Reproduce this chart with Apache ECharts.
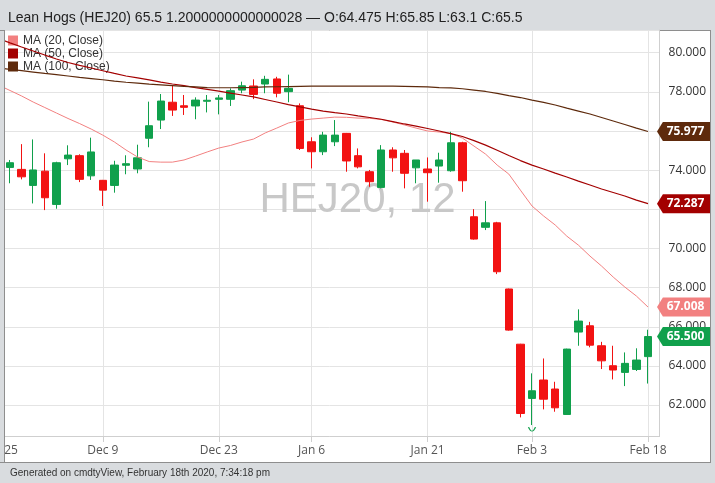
<!DOCTYPE html>
<html><head><meta charset="utf-8">
<script src="https://cdn.jsdelivr.net/npm/echarts@6/dist/echarts.min.js"></script>
<style>
html,body{margin:0;padding:0;}
#wrap{position:relative;width:715px;height:483px;background:#d9dcdf;overflow:hidden;}
#box{position:absolute;left:4px;top:30px;width:705px;height:431px;background:#fff;border:1px solid #8e8e8e;}
#chart{position:absolute;left:0;top:0;width:715px;height:483px;}
#cover{position:absolute;left:0;top:30px;width:4px;height:431px;background:#d9dcdf;border-right:1px solid #8e8e8e;border-top:1px solid #8e8e8e;border-bottom:1px solid #8e8e8e;}
</style></head>
<body><div id="wrap"><div id="box"></div><div id="chart"></div><div id="cover"></div></div>
<script>
const dates = ['Nov 25','Nov 26','Nov 27','Nov 29','Dec 2','Dec 3','Dec 4','Dec 5','Dec 6',
 'Dec 9','Dec 10','Dec 11','Dec 12','Dec 13','Dec 16','Dec 17','Dec 18','Dec 19','Dec 20',
 'Dec 23','Dec 24','Dec 26','Dec 27','Dec 30','Dec 31','Jan 2','Jan 3',
 'Jan 6','Jan 7','Jan 8','Jan 9','Jan 10','Jan 13','Jan 14','Jan 15','Jan 16','Jan 17',
 'Jan 21','Jan 22','Jan 23','Jan 24','Jan 27','Jan 28','Jan 29','Jan 30','Jan 31',
 'Feb 3','Feb 4','Feb 5','Feb 6','Feb 7','Feb 10','Feb 11','Feb 12','Feb 13','Feb 14',
 'Feb 18',''];
const tickDates = ['Nov 25','Dec 9','Dec 23','Jan 6','Jan 21','Feb 3','Feb 18'];

// OHLC from Nov 26 to Feb 18
const opens  = [74.14,74.04,73.22,73.95,72.25,74.58,74.74,73.71,73.48,73.22,74.25,74.06,75.63,76.56,77.47,77.29,77.28,77.52,77.62,77.62,78.09,78.30,78.40,78.66,78.01,77.29,75.45,74.94,75.45,75.88,74.74,73.92,73.12,75.03,74.86,74.12,74.06,74.21,73.97,75.40,71.62,71.08,71.31,67.93,65.11,62.34,63.28,62.82,61.52,65.73,66.05,65.03,64.01,63.67,63.82,64.475];
const closes = [74.38,73.66,74.01,72.59,74.38,74.77,73.53,74.93,72.98,74.26,74.33,74.63,76.27,77.53,77.07,77.21,77.58,77.57,77.69,78.06,78.31,77.87,78.64,77.93,78.18,75.11,74.94,75.79,75.79,74.47,74.17,73.41,75.03,74.63,73.84,74.52,73.87,74.52,75.40,73.46,70.48,71.31,68.81,65.83,61.57,62.73,62.30,61.86,64.86,66.29,65.06,64.26,63.79,64.13,64.30,65.5];
const lows   = [73.33,73.53,72.30,71.96,72.03,74.26,73.39,73.50,72.17,72.85,73.79,73.84,75.17,76.10,76.77,76.82,76.60,76.95,76.85,77.28,77.93,77.63,77.93,77.72,77.47,75.03,74.09,74.77,75.23,73.92,74.09,73.15,73.07,73.92,73.07,73.33,72.39,73.36,73.92,72.90,70.45,70.94,68.69,65.80,61.37,60.98,61.78,61.66,61.50,65.03,64.95,63.84,63.31,62.97,63.74,63.1];
const highs  = [74.52,75.33,75.57,74.86,74.43,75.27,74.81,75.66,73.50,74.48,74.76,75.30,77.50,77.89,78.30,77.84,77.72,77.84,77.84,78.18,78.52,78.64,78.82,78.77,78.88,77.41,75.68,75.96,76.56,75.90,75.11,74.01,75.28,75.17,75.03,74.52,74.65,74.89,75.96,75.45,72.01,72.42,71.36,67.95,65.13,63.62,64.38,63.19,64.88,66.89,66.25,65.23,65.03,64.69,64.90,65.85];

// moving averages from Nov 25 to Feb 18
const ma20 = [78.35,78.07,77.79,77.48,77.20,76.92,76.64,76.38,76.10,75.79,75.44,75.03,74.67,74.44,74.41,74.41,74.52,74.72,74.93,75.13,75.26,75.44,75.59,75.90,76.15,76.41,76.54,76.61,76.66,76.71,76.70,76.66,76.65,76.59,76.46,76.31,76.15,76.00,75.95,75.87,75.64,75.23,74.82,74.26,73.80,72.98,72.17,71.66,71.20,70.63,70.17,69.61,69.10,68.54,68.03,67.57,67.008];
const ma50 = [80.72,80.50,80.29,80.09,79.88,79.68,79.50,79.35,79.22,79.08,78.94,78.81,78.71,78.61,78.50,78.40,78.32,78.22,78.13,78.04,77.94,77.84,77.74,77.61,77.48,77.35,77.23,77.12,77.02,76.94,76.87,76.77,76.69,76.60,76.48,76.36,76.25,76.13,76.00,75.87,75.72,75.51,75.28,75.02,74.75,74.49,74.26,74.06,73.85,73.65,73.44,73.24,73.04,72.86,72.68,72.47,72.287];
const ma100 = [79.22,79.15,79.08,79.01,78.94,78.88,78.81,78.74,78.68,78.62,78.55,78.49,78.45,78.40,78.36,78.32,78.28,78.25,78.22,78.21,78.21,78.22,78.23,78.25,78.26,78.27,78.28,78.29,78.29,78.29,78.29,78.29,78.29,78.29,78.29,78.28,78.27,78.25,78.22,78.20,78.16,78.09,78.02,77.92,77.81,77.71,77.58,77.46,77.33,77.17,77.02,76.87,76.69,76.51,76.33,76.15,75.977];

const UP = '#10a04c', DOWN = '#f21212';
const C20 = '#f28080', C50 = '#a30000', C100 = '#5e2a0c';
const FONT_AX = 'Open Sans';
const FONT_TX = 'Liberation Sans';

const candles = ['-'].concat(opens.map((o, i) => [o, closes[i], lows[i], highs[i]])).concat(['-']);
const pad = a => a.concat(['-']);
const lastIdx = dates.length - 2;
const tagPath = 'path://M0,9.5L6,0L54,0L54,19L6,19Z';
function tag(val, color) {
  return {
    coord: [lastIdx, val], value: val,
    symbol: tagPath, symbolSize: [53, 19], symbolOffset: [35.5, 0],
    itemStyle: {color: color},
    label: {show: true, position: 'inside', offset: [2, 0], color: '#fff', fontWeight: 'bold',
      fontSize: 12, fontFamily: FONT_AX, formatter: p => Number(p.value).toFixed(3)}
  };
}
const showTick = (idx, val) => tickDates.indexOf(val) >= 0;
const lowIdx = dates.indexOf('Feb 3');

const chart = echarts.init(document.getElementById('chart'), null, {renderer: 'canvas'});
chart.setOption({
  animation: false,
  backgroundColor: 'transparent',
  title: [
    {text: 'Lean Hogs (HEJ20) 65.5 1.2000000000000028 \u2014 O:64.475 H:65.85 L:63.1 C:65.5',
     left: 3, top: 6, textStyle: {fontSize: 14, fontWeight: 'normal', color: '#222', fontFamily: FONT_TX}},
    {text: 'Generated on cmdtyView, February 18th 2020, 7:34:18 pm',
     left: 5, top: 463, textStyle: {fontSize: 10, fontWeight: 'normal', color: '#333', fontFamily: FONT_TX}},
    {text: 'HEJ20, 12', left: 'center', top: 174, z: 1,
     textStyle: {fontSize: 42, fontWeight: 'normal', color: '#c8c8c8', fontFamily: FONT_TX}}
  ],
  legend: {
    data: ['MA (20, Close)', 'MA (50, Close)', 'MA (100, Close)'],
    orient: 'vertical', left: 8, top: 34, padding: 0, itemGap: 0,
    itemWidth: 10, itemHeight: 10, icon: 'rect', selectedMode: false,
    textStyle: {fontSize: 12, color: '#333', fontFamily: FONT_TX, lineHeight: 13}
  },
  grid: {left: -1.6, right: 55.4, top: 30, bottom: 47, containLabel: false, outerBoundsMode: 'none'},
  xAxis: {
    type: 'category', data: dates, boundaryGap: false,
    axisLine: {show: true, lineStyle: {color: '#cfcfcf'}},
    axisTick: {show: true, interval: showTick, length: 6, lineStyle: {color: '#cfcfcf'}},
    axisLabel: {interval: showTick, color: '#555', fontSize: 12, fontFamily: FONT_AX, margin: 9},
    splitLine: {show: true, interval: showTick, lineStyle: {color: '#e4e4e4'}}
  },
  yAxis: {
    type: 'value', position: 'right', scale: true,
    min: 60.42, max: 81.16, minInterval: 2, maxInterval: 2,
    axisLine: {show: true, lineStyle: {color: '#cfcfcf'}},
    axisTick: {show: false},
    axisLabel: {showMinLabel: false, showMaxLabel: false, color: '#333', fontSize: 12,
      fontFamily: FONT_AX, margin: 9, formatter: v => v.toFixed(3)},
    splitLine: {show: true, lineStyle: {color: '#e4e4e4'}}
  },
  series: [
    {name: 'HEJ20', type: 'candlestick', data: candles, barWidth: 8, z: 3,
     itemStyle: {color: UP, color0: DOWN, borderColor: UP, borderColor0: DOWN, borderWidth: 1},
     markPoint: {data: [
       tag(closes[closes.length - 1], UP),
       {coord: [lowIdx, lows[lowIdx - 1]], value: lows[lowIdx - 1], symbol: 'path://M0,0Q4,7 8,0',
        symbolSize: [7, 4], symbolOffset: [0, 4],
        itemStyle: {color: 'rgba(0,0,0,0)', borderColor: UP, borderWidth: 1}, label: {show: false}}
     ]}},
    {name: 'MA (20, Close)', type: 'line', data: pad(ma20), symbol: 'none', z: 4,
     itemStyle: {color: C20}, lineStyle: {color: C20, width: 1},
     markPoint: {data: [tag(ma20[ma20.length - 1], C20)]}},
    {name: 'MA (50, Close)', type: 'line', data: pad(ma50), symbol: 'none', z: 4,
     itemStyle: {color: C50}, lineStyle: {color: C50, width: 1.2},
     markPoint: {data: [tag(ma50[ma50.length - 1], C50)]}},
    {name: 'MA (100, Close)', type: 'line', data: pad(ma100), symbol: 'none', z: 4,
     itemStyle: {color: C100}, lineStyle: {color: C100, width: 1.2},
     markPoint: {data: [tag(ma100[ma100.length - 1], C100)]}}
  ]
});
</script>
</body></html>
